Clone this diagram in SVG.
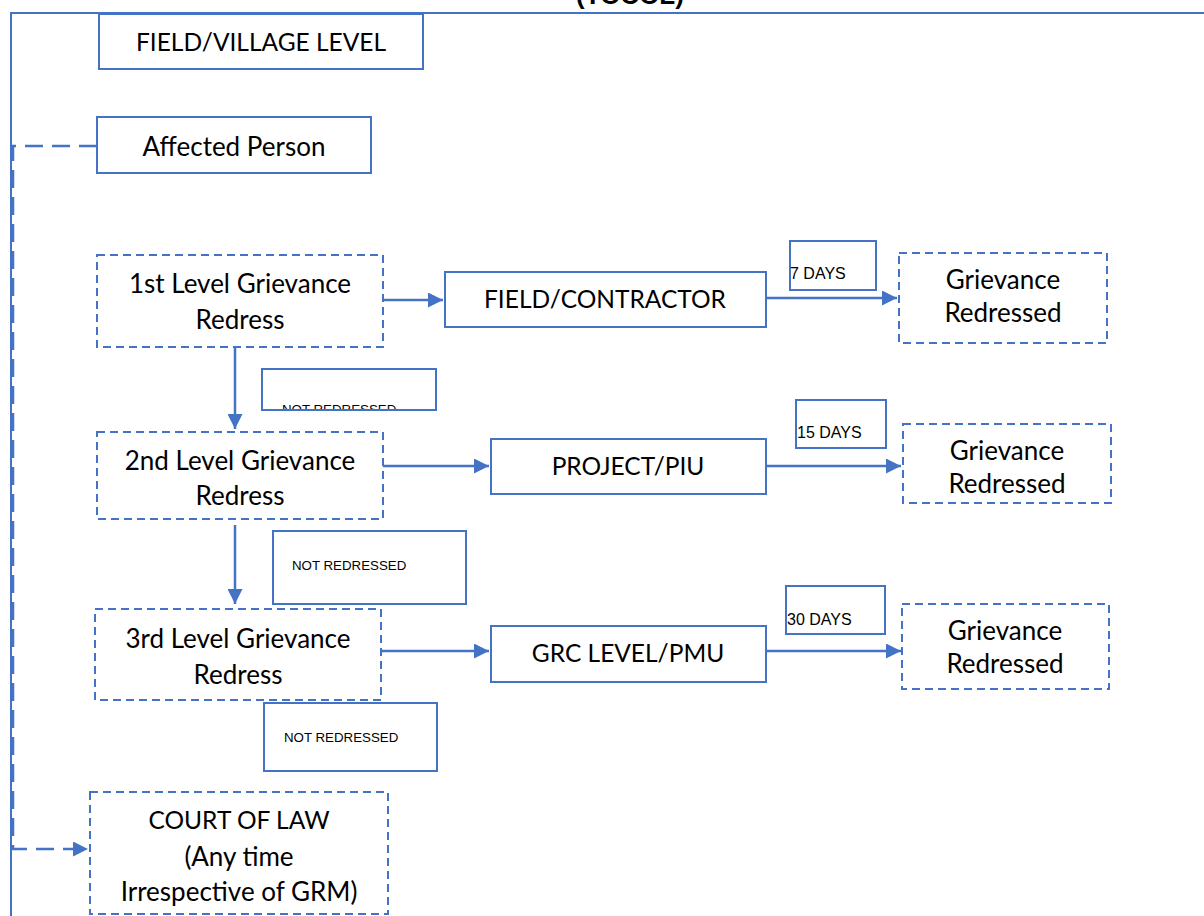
<svg xmlns="http://www.w3.org/2000/svg" width="1204" height="916" viewBox="0 0 1204 916">
<style>
.s{fill:#fff;stroke:#4472C4;stroke-width:2}
.d{fill:#fff;stroke:#4472C4;stroke-width:2;stroke-dasharray:8 5}
.t{font-family:Lato,"Open Sans",sans-serif;font-size:26px;fill:#000;text-anchor:middle}
.u{font-family:Lato,"Open Sans",sans-serif;font-size:24.5px;fill:#000;text-anchor:middle}
.m{font-family:"Liberation Sans",Arial,sans-serif;font-size:16px;fill:#000}
.n{font-family:"Liberation Sans",Arial,sans-serif;font-size:13.3px;fill:#000}
.c{fill:none;stroke:#4472C4;stroke-width:2.5}
.cd{fill:none;stroke:#4472C4;stroke-width:2.5;stroke-dasharray:18 9}
</style>
<defs>
<marker id="ah" viewBox="0 0 10 10" refX="10" refY="5" markerWidth="6" markerHeight="6" markerUnits="strokeWidth" orient="auto">
<path d="M0,0 L10,5 L0,10 z" fill="#4472C4"/>
</marker>
<clipPath id="cl1"><rect x="263" y="370" width="172" height="39"/></clipPath>
</defs>
<rect width="1204" height="916" fill="#fff"/>
<text x="630" y="4" font-family="Liberation Sans,Arial,sans-serif" font-size="26" font-weight="bold" text-anchor="middle">(TOCOL)</text>
<g id="frame">
<path d="M11,916 V13 H1204" fill="none" stroke="#4472C4" stroke-width="2"/>
</g>
<g id="connectors">
<path class="cd" d="M97,146 H13 V849 H88" marker-end="url(#ah)"/>
<path class="c" d="M383,300 H443" marker-end="url(#ah)"/>
<path class="c" d="M766,298 H897" marker-end="url(#ah)"/>
<path class="c" d="M235,347 V429" marker-end="url(#ah)"/>
<path class="c" d="M383,466 H489" marker-end="url(#ah)"/>
<path class="c" d="M766,466 H901" marker-end="url(#ah)"/>
<path class="c" d="M235,525 V604" marker-end="url(#ah)"/>
<path class="c" d="M381,651 H489" marker-end="url(#ah)"/>
<path class="c" d="M766,651 H901" marker-end="url(#ah)"/>
</g>
<g id="field-village">
<rect class="s" x="99" y="14" width="324" height="55"/>
<text class="u" x="261" y="51">FIELD/VILLAGE LEVEL</text>
</g>
<g id="affected-person">
<rect class="s" x="97" y="117" width="274" height="56"/>
<text class="t" x="234" y="156">Affected Person</text>
</g>
<g id="level1">
<rect class="d" x="97" y="255" width="286" height="92"/>
<text class="t" x="240" y="293">1st Level Grievance</text>
<text class="t" x="240" y="329">Redress</text>
</g>
<g id="field-contractor">
<rect class="s" x="445" y="272" width="321" height="55"/>
<text class="u" x="605" y="308">FIELD/CONTRACTOR</text>
</g>
<g id="days7">
<rect class="s" x="790" y="241" width="86" height="49"/>
<text class="m" x="790" y="279">7 DAYS</text>
</g>
<g id="redressed1">
<rect class="d" x="899" y="253" width="208" height="90"/>
<text class="t" x="1003" y="289">Grievance</text>
<text class="t" x="1003" y="322">Redressed</text>
</g>
<g id="not-redressed1">
<rect class="s" x="262" y="369" width="174" height="41"/>
<text class="n" x="282" y="414" clip-path="url(#cl1)">NOT REDRESSED</text>
</g>
<g id="level2">
<rect class="d" x="97" y="432" width="286" height="87"/>
<text class="t" x="240" y="470">2nd Level Grievance</text>
<text class="t" x="240" y="505">Redress</text>
</g>
<g id="project-piu">
<rect class="s" x="491" y="439" width="275" height="55"/>
<text class="u" x="628" y="475">PROJECT/PIU</text>
</g>
<g id="days15">
<rect class="s" x="796" y="400" width="90" height="48"/>
<text class="m" x="797" y="438">15 DAYS</text>
</g>
<g id="redressed2">
<rect class="d" x="903" y="424" width="208" height="79"/>
<text class="t" x="1007" y="460">Grievance</text>
<text class="t" x="1007" y="493">Redressed</text>
</g>
<g id="not-redressed2">
<rect class="s" x="273" y="531" width="193" height="73"/>
<text class="n" x="292" y="570">NOT REDRESSED</text>
</g>
<g id="level3">
<rect class="d" x="95" y="609" width="286" height="91"/>
<text class="t" x="238" y="648">3rd Level Grievance</text>
<text class="t" x="238" y="684">Redress</text>
</g>
<g id="grc-pmu">
<rect class="s" x="491" y="626" width="275" height="56"/>
<text class="u" x="628" y="662">GRC LEVEL/PMU</text>
</g>
<g id="days30">
<rect class="s" x="786" y="586" width="99" height="48"/>
<text class="m" x="787" y="625">30 DAYS</text>
</g>
<g id="redressed3">
<rect class="d" x="902" y="604" width="207" height="85"/>
<text class="t" x="1005" y="640">Grievance</text>
<text class="t" x="1005" y="673">Redressed</text>
</g>
<g id="not-redressed3">
<rect class="s" x="264" y="703" width="173" height="68"/>
<text class="n" x="284" y="742">NOT REDRESSED</text>
</g>
<g id="court">
<rect class="d" x="90" y="792" width="298" height="122"/>
<text class="u" x="239" y="829">COURT OF LAW</text>
<text class="t" x="239" y="866">(Any time</text>
<text class="t" x="239" y="901">Irrespective of GRM)</text>
</g>
</svg>
